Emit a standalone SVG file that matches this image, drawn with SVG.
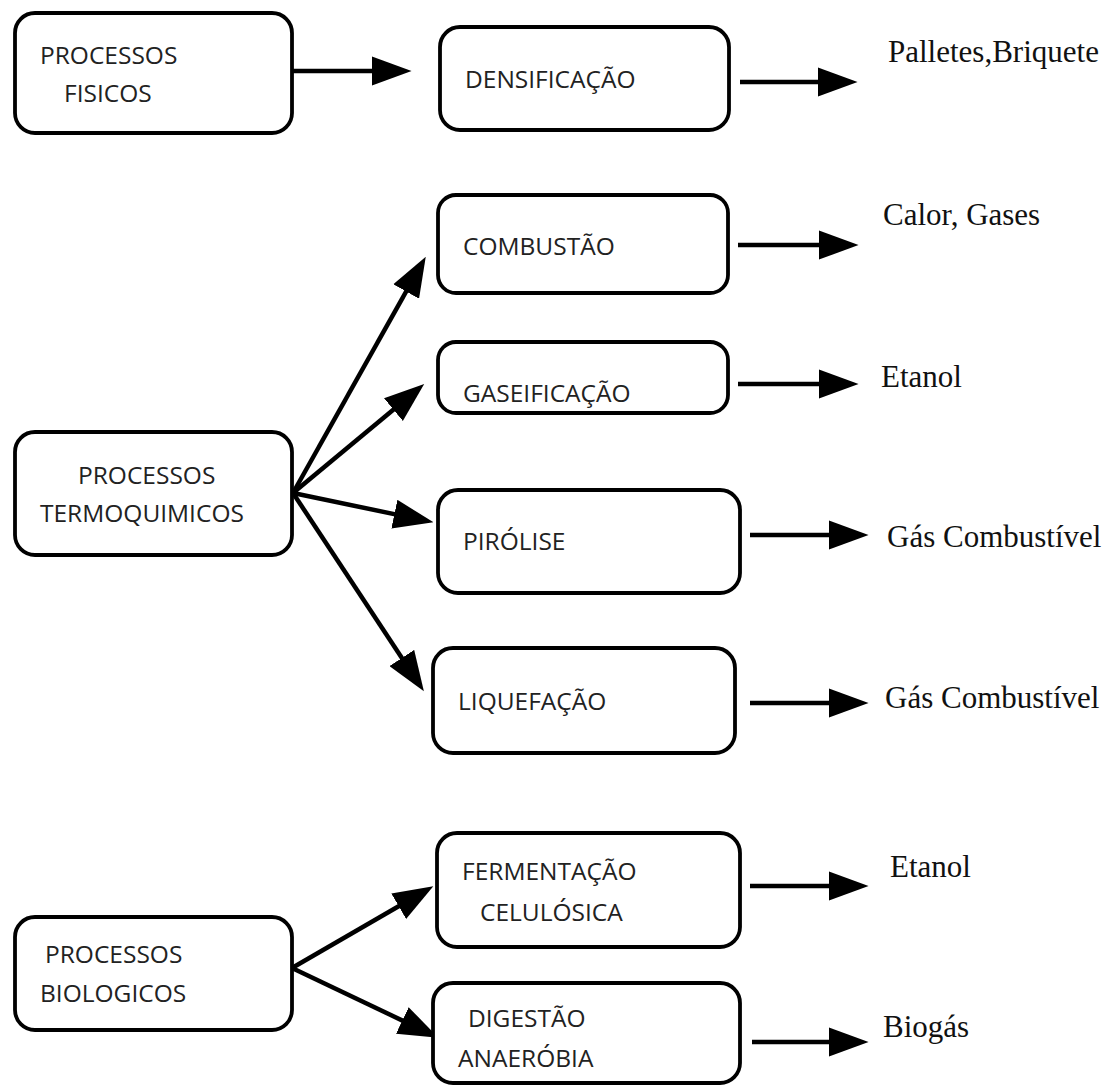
<svg xmlns="http://www.w3.org/2000/svg" width="1109" height="1087" viewBox="0 0 1109 1087">
<style>
.box{fill:#fff;stroke:#000;stroke-width:3.8}
.t{font-family:"Open Sans","Noto Sans",sans-serif;font-size:24.5px;fill:#222}
.r{font-family:"Liberation Serif","Times New Roman",serif;font-size:31px;fill:#111}
.c{stroke:#000;stroke-width:4.5;fill:none;marker-end:url(#ah)}
</style>
<defs>
<marker id="ah" markerUnits="userSpaceOnUse" markerWidth="40" markerHeight="30" viewBox="0 0 38 28" refX="8" refY="14" orient="auto">
<path d="M0,0 L38,14 L0,28 Z" fill="#000"/>
</marker>
</defs>
<rect width="1109" height="1087" fill="#fff"/>
<g id="connectors">
<line class="c" x1="292" y1="71" x2="380" y2="71"/>
<line class="c" x1="740" y1="82" x2="826" y2="82"/>
<line class="c" x1="738" y1="245" x2="827" y2="245"/>
<line class="c" x1="738" y1="384" x2="827" y2="384"/>
<line class="c" x1="750" y1="535" x2="837" y2="535"/>
<line class="c" x1="750" y1="703" x2="837" y2="703"/>
<line class="c" x1="750" y1="886" x2="837" y2="886"/>
<line class="c" x1="752" y1="1042" x2="837" y2="1042"/>
<line class="c" x1="293" y1="493" x2="410.3" y2="284.2"/>
<line class="c" x1="293" y1="493" x2="399.9" y2="404.2"/>
<line class="c" x1="293" y1="493" x2="402.6" y2="515.9"/>
<line class="c" x1="293" y1="493" x2="406.5" y2="665"/>
<line class="c" x1="292" y1="968" x2="406" y2="902"/>
<line class="c" x1="292" y1="968" x2="409.9" y2="1024.1"/>
</g>
<g id="fisicos"><rect class="box" x="15" y="13" width="277" height="120" rx="20"/><text class="t" x="40" y="64">PROCESSOS</text><text class="t" x="64" y="102">FISICOS</text></g>
<g id="densificacao"><rect class="box" x="440" y="27" width="289" height="103" rx="20"/><text class="t" x="465" y="88">DENSIFICAÇÃO</text></g>
<g id="termoquimicos"><rect class="box" x="15" y="432" width="277" height="123" rx="20"/><text class="t" x="78" y="484">PROCESSOS</text><text class="t" x="40" y="522">TERMOQUIMICOS</text></g>
<g id="combustao"><rect class="box" x="438" y="195" width="290" height="98" rx="18"/><text class="t" x="463" y="255">COMBUSTÃO</text></g>
<g id="gaseificacao"><rect class="box" x="438" y="342" width="290" height="71" rx="18"/><text class="t" x="463" y="402">GASEIFICAÇÃO</text></g>
<g id="pirolise"><rect class="box" x="438" y="490" width="302" height="103" rx="20"/><text class="t" x="463" y="550">PIRÓLISE</text></g>
<g id="liquefacao"><rect class="box" x="433" y="648" width="302" height="105" rx="20"/><text class="t" x="458" y="710">LIQUEFAÇÃO</text></g>
<g id="biologicos"><rect class="box" x="15" y="917" width="277" height="113" rx="20"/><text class="t" x="45" y="963">PROCESSOS</text><text class="t" x="40" y="1002">BIOLOGICOS</text></g>
<g id="fermentacao"><rect class="box" x="437" y="833" width="303" height="114" rx="20"/><text class="t" x="462" y="880">FERMENTAÇÃO</text><text class="t" x="480" y="921">CELULÓSICA</text></g>
<g id="digestao"><rect class="box" x="433" y="983" width="307" height="100" rx="20"/><text class="t" x="468" y="1027">DIGESTÃO</text><text class="t" x="458" y="1067">ANAERÓBIA</text></g>
<g id="outputs">
<text class="r" x="888" y="62">Palletes,Briquete</text>
<text class="r" x="883" y="225">Calor, Gases</text>
<text class="r" x="881" y="387">Etanol</text>
<text class="r" x="887" y="547">Gás Combustível</text>
<text class="r" x="885" y="708">Gás Combustível</text>
<text class="r" x="890" y="877">Etanol</text>
<text class="r" x="883" y="1037">Biogás</text>
</g>
</svg>
